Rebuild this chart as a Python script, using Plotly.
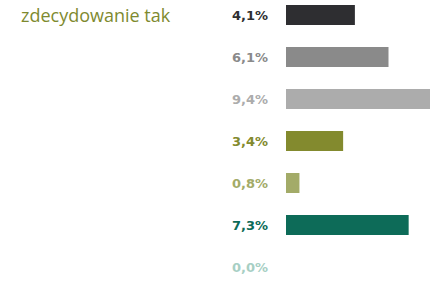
import plotly.graph_objects as go

categories = ["c1", "c2", "c3", "c4", "c5", "c6", "c7"]
values = [4.1, 6.1, 9.4, 3.4, 0.8, 7.3, 0.0]
labels = ["4,1%", "6,1%", "9,4%", "3,4%", "0,8%", "7,3%", "0,0%"]
colors = ["#2e2e31", "#8a8a8a", "#acacac", "#838a2e", "#a3ab68", "#0d6b58", "#a7cfc4"]
title_text = "zdecydowanie tak"

ypos = list(range(len(categories)))

W, H = 430, 281
L = 286
PLOT_W = W - L

fig = go.Figure()
fig.add_trace(go.Bar(
    x=values, y=ypos, orientation="h",
    marker=dict(color=colors, line=dict(width=0)),
    width=20 / 42, hoverinfo="skip",
))

for yi, lab, col in zip(ypos, labels, colors):
    fig.add_annotation(
        x=0, y=yi, xref="x", yref="y", text=lab, showarrow=False,
        xanchor="right", yanchor="middle", xshift=-16,
        font=dict(family="DejaVu Sans", size=13, color=col, weight="bold"),
    )

fig.add_annotation(
    x=(19 - L) / PLOT_W, y=0, xref="paper", yref="y", text=title_text,
    showarrow=False, xanchor="left", yanchor="middle",
    font=dict(family="Open Sans", size=18, color="#7e8a2f"),
)

fig.update_layout(
    width=W, height=H,
    margin=dict(l=L, r=0, t=0, b=0, pad=0),
    paper_bgcolor="white", plot_bgcolor="white",
    showlegend=False,
    hovermode=False,
    xaxis=dict(range=[0, 8.57], visible=False, fixedrange=True),
    yaxis=dict(range=[-15 / 42 + H / 42, -15 / 42], visible=False, fixedrange=True),
)

fig.write_html(
    "out.html",
    config={"displayModeBar": False, "staticPlot": True},
    post_script="document.body.style.margin='0';document.body.style.overflow='hidden';",
)
